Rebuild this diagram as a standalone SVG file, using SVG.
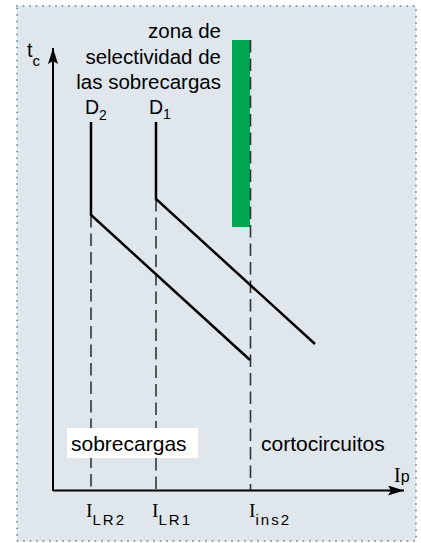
<svg xmlns="http://www.w3.org/2000/svg" width="421" height="543" viewBox="0 0 421 543">
<style>
.sans{font-family:"Liberation Sans",Arial,sans-serif;fill:#000}
.serif{font-family:"Liberation Serif","Times New Roman",serif;fill:#000}
.curve{fill:none;stroke:#000;stroke-width:2.5;stroke-linejoin:miter}
.dash{fill:none;stroke:#333;stroke-width:1.6;stroke-dasharray:12.5,6}
.axis{fill:none;stroke:#000;stroke-width:2}
</style>
<defs>
<marker id="arr" viewBox="0 0 16 10" refX="16" refY="5" markerWidth="16" markerHeight="10" markerUnits="userSpaceOnUse" orient="auto">
<path d="M0,0 L16,5 L0,10 L3,5 Z" fill="#000"/>
</marker>
</defs>
<rect x="0" y="0" width="421" height="543" fill="#fff"/>
<rect id="frame" x="17" y="6" width="399" height="535" fill="#dfe7ed" stroke="#7d97a7" stroke-width="2" stroke-linecap="round" stroke-dasharray="0,6.5"/>

<g id="zone">
<rect x="232" y="40" width="18" height="187" fill="#00a651"/>
<text class="sans" font-size="20.5" text-anchor="end"><tspan x="221" y="38">zona de</tspan><tspan x="221" y="64">selectividad de</tspan><tspan x="221" y="89">las sobrecargas</tspan></text>
</g>

<g id="connectors">
<line class="dash" x1="91" y1="215" x2="91" y2="490"/>
<line class="dash" x1="156" y1="199" x2="156" y2="490"/>
<line class="dash" x1="250.5" y1="40" x2="250.5" y2="490"/>
<line class="axis" x1="53" y1="491" x2="53" y2="48" marker-end="url(#arr)"/>
<line class="axis" x1="53" y1="490.5" x2="404" y2="490.5" marker-end="url(#arr)"/>
</g>

<g id="D2">
<polyline class="curve" points="91,122 91,215 250,360"/>
<text class="sans" x="85" y="114" font-size="19.5">D<tspan font-size="14" dy="6">2</tspan></text>
</g>

<g id="D1">
<polyline class="curve" points="156,122 156,199 315,344"/>
<text class="sans" x="149" y="114" font-size="19.5">D<tspan font-size="14" dy="5">1</tspan></text>
</g>

<g id="tc">
<text class="sans" x="27" y="57" font-size="20">t<tspan font-size="15" dy="9">c</tspan></text>
</g>

<g id="sobrecargas">
<rect x="67" y="428" width="131" height="30" fill="#fff"/>
<text class="sans" x="71" y="451" font-size="21">sobrecargas</text>
</g>

<g id="cortocircuitos">
<text class="sans" x="261" y="451" font-size="21">cortocircuitos</text>
</g>

<g id="Ip">
<text x="394" y="482"><tspan class="serif" font-size="20">I</tspan><tspan class="sans" font-size="16">p</tspan></text>
</g>

<g id="ILR2">
<text x="86" y="517"><tspan class="serif" font-size="19.5">I</tspan><tspan class="sans" font-size="15" dy="8" letter-spacing="2">LR2</tspan></text>
</g>
<g id="ILR1">
<text x="152" y="517"><tspan class="serif" font-size="19.5">I</tspan><tspan class="sans" font-size="15" dy="8" letter-spacing="2">LR1</tspan></text>
</g>
<g id="Iins2">
<text x="249" y="517"><tspan class="serif" font-size="19.5">I</tspan><tspan class="sans" font-size="15" dy="8" letter-spacing="2">ins2</tspan></text>
</g>
</svg>
